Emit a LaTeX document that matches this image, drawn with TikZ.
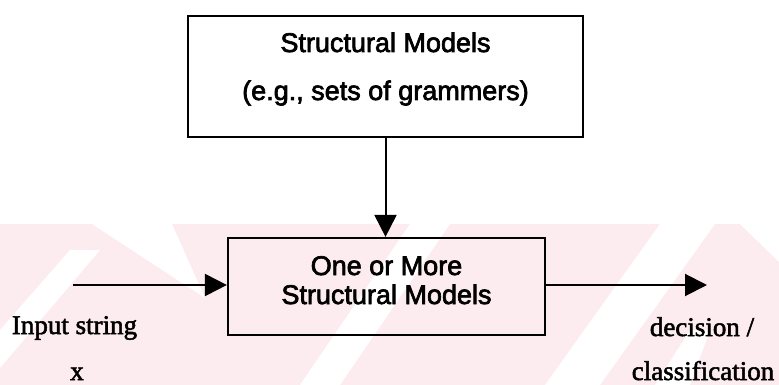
\documentclass[tikz,border=0pt]{standalone}
\usepackage{fontspec}
\setmainfont{Liberation Serif}
\newfontfamily\lblfont{Liberation Serif}[FakeBold=2]
\newfontfamily\boxfont{Liberation Sans}[FakeBold=2.5]
\usetikzlibrary{arrows.meta}
\definecolor{wmpink}{RGB}{252,236,239}
\tikzset{
  box/.style={draw=black, line width=2.2pt, fill=none, inner sep=0pt},
  boxtext/.style={font=\boxfont\fontsize{27}{30}\selectfont, inner sep=0pt, anchor=base},
  lbl/.style={font=\lblfont\fontsize{27}{30}\selectfont, inner sep=0pt, anchor=base},
  arr/.style={line width=2pt, -{Triangle[length=22pt,width=22pt]}},
}
\begin{document}
\begin{tikzpicture}[x=1pt,y=-1pt]
\useasboundingbox (0,0) rectangle (779,385);
% faint background watermark band
\fill[wmpink] (0,224) rectangle (779,385);
\fill[white] (92,224) -- (172,224) -- (205,298) -- cycle;
\fill[white] (0,330) -- (70,250) -- (100,250) -- (0,368) -- cycle;
\fill[white] (300,385) -- (410,224) -- (450,224) -- (340,385) -- cycle;
\fill[white] (660,224) -- (715,224) -- (600,385) -- (545,385) -- cycle;
\fill[white] (740,224) -- (779,224) -- (779,262) -- cycle;
\fill[white] (655,385) -- (690,330) -- (710,330) -- (690,385) -- cycle;
% boxes
\node[box, minimum width=395pt, minimum height=121pt] (top) at (385.5,76.5) {};
\node[boxtext] (t1) at (385.5,52) {Structural Models};
\node[boxtext] (t2) at (385.5,100) {(e.g., sets of grammers)};
\node[box, minimum width=317pt, minimum height=97pt] (bot) at (386.5,286.5) {};
\node[boxtext] (b1) at (386.5,275) {One or More};
\node[boxtext] (b2) at (386.5,304) {Structural Models};
% connectors
\coordinate (in) at (73,285);
\coordinate (out) at (707,285);
\draw[arr] (top.south) -- (top.south |- bot.north);
\draw[arr] (in) -- (in -| bot.west);
\draw[arr] (bot.east |- out) -- (out);
% labels
\node[lbl] (l1) at (74.5,334) {Input string};
\node[lbl] (l2) at (77,380) {x};
\node[lbl] (l3) at (702,336) {decision /};
\node[lbl] (l4) at (703,380) {classification};
\end{tikzpicture}
\end{document}
